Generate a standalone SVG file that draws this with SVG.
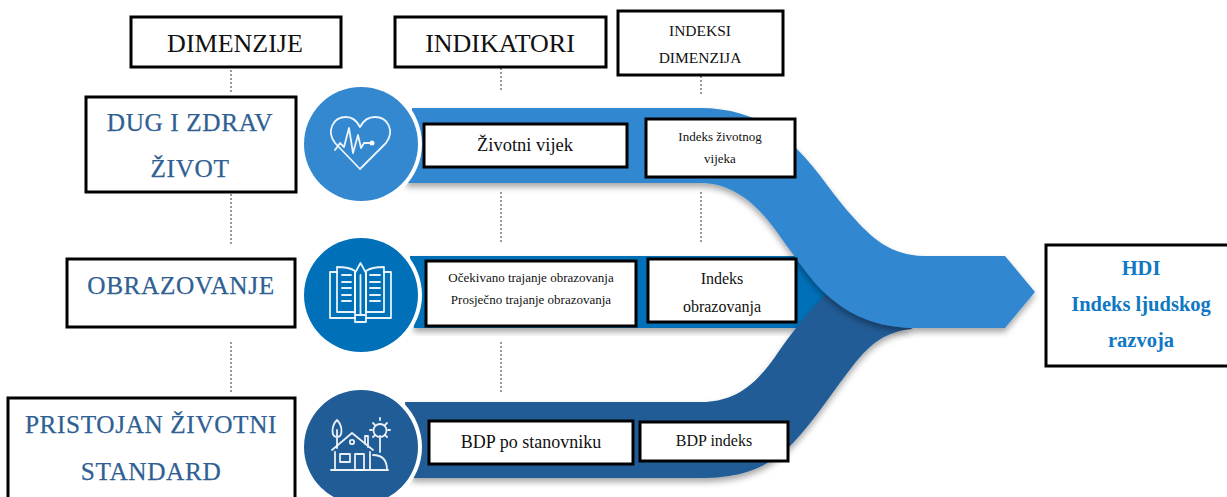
<svg xmlns="http://www.w3.org/2000/svg" width="1227" height="497" viewBox="0 0 1227 497">
<defs>
<filter id="sh" x="-5%" y="-5%" width="110%" height="115%"><feDropShadow dx="0" dy="4" stdDeviation="3" flood-color="#000" flood-opacity="0.35"/></filter>
</defs>
<style>
.box{fill:#fff;stroke:#000;stroke-width:3}
.t{font-family:"Liberation Serif",serif;text-anchor:middle;fill:#111}
.b{fill:#2f5f93;letter-spacing:.6px;stroke:#2f5f93;stroke-width:.25}
.h{fill:#0f78c4;font-weight:bold}
.dot{stroke:#999;stroke-width:2;stroke-dasharray:2 2;fill:none}
.ic{fill:none;stroke:#fff;stroke-width:1.8;stroke-linejoin:round;stroke-linecap:round;opacity:.9}
</style>
<rect width="1227" height="497" fill="#fff"/>
<g id="connectors">
<path class="dot" d="M231 70V94M231 194V244M231 342V394M501 68V90M701 76V94M501 192V244M701 192V244M501 342V394"/>
<path id="band-mid" filter="url(#sh)" fill="#0070b9" d="M410 256H800L835 292L800 328H414Z"/>
<path id="band-low" filter="url(#sh)" fill="#205c96" d="M405 402H700C735 402 755 385 775 357C790 335 805 315 827 293L913 329C885 331 870 345 855 363C835 388 815 420 793 443C770 466 745 478 700 478H412Z"/>
<path id="band-top" filter="url(#sh)" fill="#3388d0" d="M412 108H700C740 108 770 122 796 148C820 172 835 198 853 217C870 236 890 256 925 256H1005L1035 292L1005 328H925C885 329 855 320 827 295C810 280 798 260 786 245C770 222 745 183 700 183H406Z"/>
</g>
<g id="circle-health">
<circle cx="361" cy="144" r="61" fill="#fff"/><circle cx="361" cy="144" r="57" fill="#3388d0"/>
<path class="ic" d="M360 169L335 143C326 131 333 117 346 117C352 117 357 121 360 127C363 121 368 117 375 117C388 117 395 131 386 143Z"/>
<path class="ic" d="M335 150L340 143L344 147L349 128L353 153L358 135L361 148L364 143H372"/>
<circle cx="372" cy="143" r="2.5" fill="#fff"/>
</g>
<g id="circle-education">
<circle cx="361" cy="295" r="61" fill="#fff"/><circle cx="361" cy="295" r="57" fill="#0070b9"/>
<path class="ic" d="M337 272H330V318H355M384 272H391V318H366"/>
<path class="ic" d="M337 267C345 267 351 268 355 271V312H337ZM384 267C376 267 370 268 366 271V312H384Z"/>
<path class="ic" d="M355 273L360.500 263L366 273V322H355ZM355 315H366M360.500 275V315"/>
<path class="ic" d="M342 275H351M342 282H351M342 288H351M342 295H351M342 301H351M370 275H380M370 282H380M370 288H380M370 295H380M370 301H380"/>
</g>
<g id="circle-standard">
<circle cx="361" cy="447" r="61" fill="#fff"/><circle cx="361" cy="447" r="57" fill="#205c96"/>
<path class="ic" d="M331 470H388M335 470V452M370 470V452M332 450L352 433L373 450M365 444V436H368V447"/>
<path class="ic" d="M340 454H350V462H340ZM355 454H364V470H355ZM373 455C381 455 387 459 387 470"/>
<circle class="ic" cx="352" cy="442" r="2.200"/>
<path class="ic" d="M337 448V430M337 420C331 426 331 437 337 437C343 437 343 426 337 420ZM380 436V452M380 424A6.500 6.500 0 0 1 380 437A6.500 6.500 0 0 1 380 424Z"/>
<path class="ic" d="M380 418V420M370 430H372M388 430H390M373 423L375 425M387 423L385 425M373 437L375 435M387 437L385 435"/>
</g>
<g id="head-dim"><rect class="box" x="131" y="17" width="210" height="50"/><text class="t" x="235" y="52" font-size="26">DIMENZIJE</text></g>
<g id="head-ind"><rect class="box" x="395" y="17" width="211" height="50"/><text class="t" x="500" y="52" font-size="26">INDIKATORI</text></g>
<g id="head-idx"><rect class="box" x="618" y="11" width="165" height="64"/><text class="t" x="700" y="36" font-size="15.500">INDEKSI</text><text class="t" x="700" y="63" font-size="15.500">DIMENZIJA</text></g>
<g id="dim-health"><rect class="box" x="86" y="97" width="210" height="95"/><text class="t b" x="190" y="131" font-size="25.300">DUG I ZDRAV</text><text class="t b" x="190" y="177" font-size="25.300">ŽIVOT</text></g>
<g id="dim-edu"><rect class="box" x="67" y="259" width="228" height="68"/><text class="t b" x="181" y="294" font-size="25.300">OBRAZOVANJE</text></g>
<g id="dim-std"><rect class="box" x="8" y="398" width="287" height="102"/><text class="t b" x="151" y="433" font-size="25.300">PRISTOJAN ŽIVOTNI</text><text class="t b" x="151" y="480" font-size="25.300">STANDARD</text></g>
<g id="ind-life"><rect class="box" x="424" y="124" width="203" height="43"/><text class="t" x="525" y="151" font-size="18.500">Životni vijek</text></g>
<g id="ind-edu"><rect class="box" x="426" y="261" width="210" height="65"/><text class="t" x="531" y="282" font-size="13">Očekivano trajanje obrazovanja</text><text class="t" x="531" y="304" font-size="13">Prosječno trajanje obrazovanja</text></g>
<g id="ind-gdp"><rect class="box" x="429" y="421" width="204" height="43"/><text class="t" x="531" y="448" font-size="18">BDP po stanovniku</text></g>
<g id="idx-life"><rect class="box" x="646" y="119" width="149" height="58"/><text class="t" x="720" y="141" font-size="13">Indeks životnog</text><text class="t" x="720" y="163" font-size="13">vijeka</text></g>
<g id="idx-edu"><rect class="box" x="648" y="259" width="148" height="63"/><text class="t" x="722" y="284" font-size="16">Indeks</text><text class="t" x="722" y="312" font-size="16">obrazovanja</text></g>
<g id="idx-gdp"><rect class="box" x="640" y="422" width="148" height="39"/><text class="t" x="714" y="446" font-size="16">BDP indeks</text></g>
<g id="hdi"><rect class="box" x="1046" y="245" width="190" height="121"/>
<text class="t h" x="1141" y="275" font-size="20.500">HDI</text>
<text class="t h" x="1141" y="311" font-size="20.500">Indeks ljudskog</text>
<text class="t h" x="1141" y="347" font-size="20.500">razvoja</text></g>
</svg>
